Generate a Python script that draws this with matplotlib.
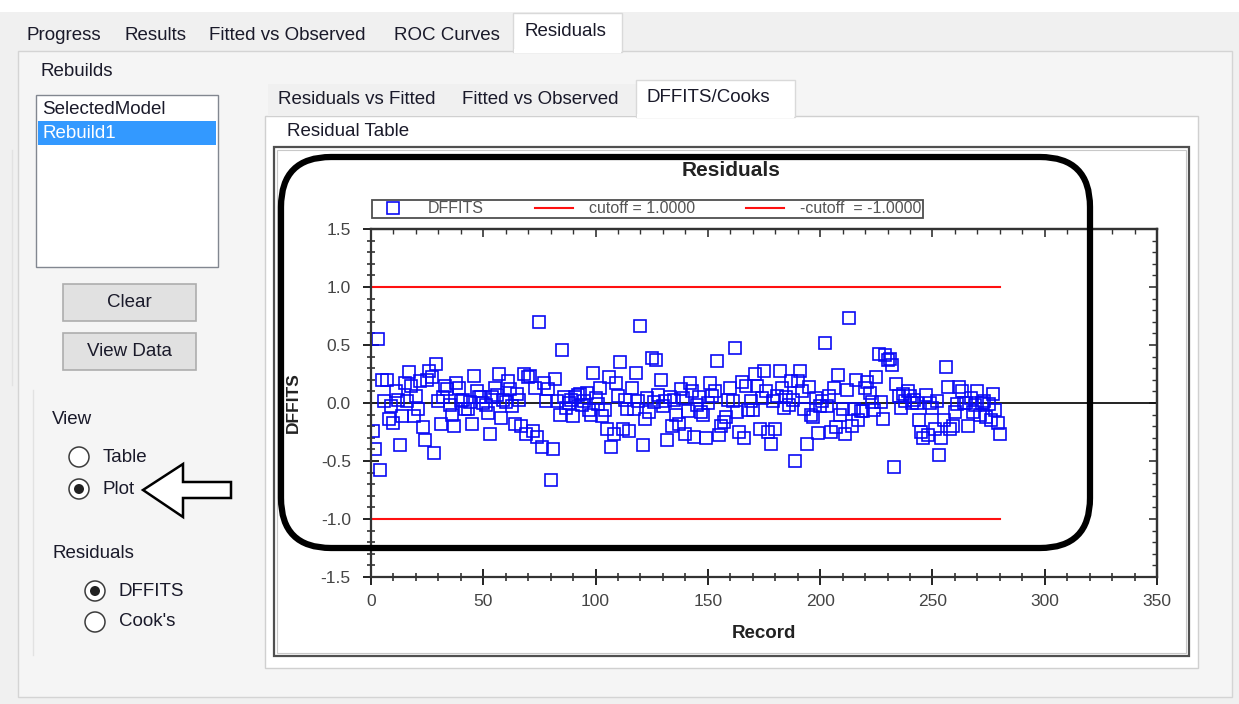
import numpy as np
import matplotlib
matplotlib.use("Agg")
import matplotlib.pyplot as plt
from matplotlib.patches import Rectangle, FancyBboxPatch, Circle, Polygon
from matplotlib.ticker import MultipleLocator, FormatStrFormatter

plt.rcParams['font.family'] = ['Liberation Sans', 'DejaVu Sans']
plt.rcParams['axes.unicode_minus'] = False

# ---------------- data ----------------
records = np.arange(1, 281)
dffits = [
    -0.24, -0.40, 0.55, -0.58, 0.20, 0.02, 0.20, -0.14, -0.03, -0.17,
    0.10, 0.03, -0.36, -0.11, 0.17, 0.02, 0.27, 0.15, -0.11, 0.06,
    -0.05, 0.19, -0.21, -0.32, 0.20, 0.28, 0.22, -0.43, 0.34, 0.02,
    -0.18, 0.05, 0.15, 0.12, -0.02, -0.10, -0.20, 0.17, 0.13, 0.02,
    0.03, -0.05, -0.05, 0.01, -0.18, 0.23, 0.10, 0.05, 0.05, 0.00,
    -0.02, -0.09, -0.27, 0.05, 0.13, 0.07, 0.25, -0.13, 0.03, 0.01,
    0.19, 0.12, -0.03, -0.18, 0.08, 0.03, -0.20, 0.25, -0.27, 0.22,
    0.23, -0.24, 0.13, -0.29, 0.70, -0.38, 0.17, 0.02, 0.12, -0.66,
    -0.40, 0.21, 0.02, -0.10, 0.46, 0.05, -0.04, 0.00, 0.03, -0.11,
    0.05, 0.07, 0.08, -0.02, 0.02, 0.09, -0.06, -0.10, 0.26, 0.04,
    -0.01, 0.13, -0.11, -0.06, -0.22, 0.22, -0.38, -0.27, 0.17, 0.06,
    0.35, -0.22, 0.03, -0.05, -0.24, 0.13, -0.05, 0.26, 0.02, 0.66,
    -0.36, -0.14, 0.04, -0.08, 0.39, 0.01, 0.37, 0.07, 0.20, -0.03,
    0.02, -0.32, 0.05, -0.20, 0.03, -0.10, -0.18, 0.12, 0.04, -0.27,
    -0.07, 0.17, 0.10, -0.29, -0.02, 0.05, -0.08, -0.10, -0.30, 0.00,
    0.17, 0.06, 0.10, 0.36, -0.28, -0.20, -0.16, -0.12, 0.03, 0.13,
    0.02, 0.47, -0.08, -0.25, 0.18, -0.30, 0.15, -0.06, 0.02, -0.06,
    0.25, 0.15, -0.22, 0.04, 0.28, 0.10, -0.25, -0.35, 0.02, -0.22,
    0.06, 0.28, 0.13, -0.04, 0.05, -0.02, 0.19, 0.03, -0.50, 0.19,
    0.28, 0.10, -0.05, -0.35, 0.14, -0.10, -0.12, 0.04, -0.26, -0.03,
    0.02, 0.52, -0.03, 0.06, -0.25, 0.13, -0.21, 0.24, -0.10, -0.05,
    -0.27, 0.11, 0.73, -0.20, -0.05, 0.20, -0.15, -0.07, -0.07, 0.13,
    0.18, 0.09, 0.01, -0.06, 0.22, 0.42, 0.01, -0.14, 0.41, 0.37,
    0.38, 0.33, -0.55, 0.16, 0.06, -0.04, 0.08, 0.02, 0.10, 0.06,
    0.00, 0.03, 0.00, -0.15, -0.25, -0.30, 0.07, -0.28, 0.00, -0.04,
    -0.22, 0.02, -0.45, -0.30, -0.15, 0.31, 0.14, -0.22, -0.20, -0.08,
    -0.01, 0.14, 0.10, 0.00, 0.00, -0.20, 0.04, -0.08, -0.02, 0.10,
    -0.10, 0.00, 0.02, -0.12, -0.01, -0.15, 0.08, -0.06, -0.17, -0.27,
]
cutoff = 1.0
series_labels = ["DFFITS", "cutoff = 1.0000", "-cutoff  = -1.0000"]
chart_title = "Residuals"
x_label = "Record"
y_label = "DFFITS"

main_tabs = ["Progress", "Results", "Fitted vs Observed", "ROC Curves", "Residuals"]
inner_tabs = ["Residuals vs Fitted", "Fitted vs Observed", "DFFITS/Cooks"]
list_items = ["SelectedModel", "Rebuild1"]
buttons = ["Clear", "View Data"]
view_options = ["Table", "Plot"]
resid_options = ["DFFITS", "Cook's"]

# ---------------- layout ----------------
W, H = 1239, 704
GUI_FS = 13.5
TXT = '#1a1a2a'


def frac(x0, y0, x1, y1):
    return [x0 / W, 1 - y1 / H, (x1 - x0) / W, (y1 - y0) / H]


fig = plt.figure(figsize=(W / 100, H / 100), dpi=100, facecolor='#f0f0f0')

bg = fig.add_axes([0, 0, 1, 1])
bg.set_xlim(0, W)
bg.set_ylim(H, 0)
bg.axis('off')

# top white strip and main panel
bg.add_patch(Rectangle((0, 0), W, 12, fc='white', ec='none'))
bg.add_patch(Rectangle((18, 51), 1214, 646, fc='#f5f5f5', ec='#d4d4d4', lw=1))
# main tabs
bg.add_patch(Rectangle((513, 13), 109, 39, fc='white', ec='#d9d9d9', lw=1))
bg.add_patch(Rectangle((514, 49), 107, 4, fc='white', ec='none'))
main_tab_x = [27, 124, 209, 394, 525]
for i, (label, tx) in enumerate(zip(main_tabs, main_tab_x)):
    ty = 32 if i == len(main_tabs) - 1 else 36
    bg.text(tx, ty, label, fontsize=GUI_FS, color=TXT, va='center', ha='left')

# left panel: Rebuilds list
bg.text(40, 72, "Rebuilds", fontsize=GUI_FS, color=TXT, va='center')
bg.add_patch(Rectangle((36, 95), 182, 172, fc='white', ec='#828790', lw=1))
bg.add_patch(Rectangle((38, 121), 178, 24, fc='#3399ff', ec='none'))
bg.text(42, 110, list_items[0], fontsize=GUI_FS, color=TXT, va='center')
bg.text(42, 133, list_items[1], fontsize=GUI_FS, color='white', va='center')

# buttons
for label, y0 in zip(buttons, [284, 333]):
    bg.add_patch(Rectangle((63, y0), 133, 37, fc='#e1e1e1', ec='#adadad', lw=1.2))
    bg.text(129.5, y0 + 18.5, label, fontsize=GUI_FS, color=TXT, va='center', ha='center')

# faint group box lines
bg.plot([12, 12], [150, 385], color='#e2e2e2', lw=1)
bg.plot([33, 33], [390, 655], color='#e2e2e2', lw=1)

# radio groups
def radio(cx, cy, label, checked):
    bg.add_patch(Circle((cx, cy), 10, fc='white', ec='#3c3c3c', lw=1.1))
    if checked:
        bg.add_patch(Circle((cx, cy), 5, fc='#222222', ec='none'))
    bg.text(cx + 24, cy, label, fontsize=GUI_FS, color=TXT, va='center')

bg.text(52, 420, "View", fontsize=GUI_FS, color=TXT, va='center')
radio(79, 457, view_options[0], False)
radio(79, 489, view_options[1], True)
bg.text(52, 553, "Residuals", fontsize=GUI_FS, color=TXT, va='center')
radio(95, 591, resid_options[0], True)
radio(95, 622, resid_options[1], False)

# hollow arrow pointing at "Plot"
arrow_pts = [(143, 490), (183, 464), (183, 482), (231, 482),
             (231, 498), (183, 498), (183, 517)]
bg.add_patch(Polygon(arrow_pts, closed=True, fc='white', ec='black', lw=1.8,
                     joinstyle='miter'))

# inner panel with tabs
bg.add_patch(Rectangle((265, 116), 933, 552, fc='white', ec='#d0d0d0', lw=1))
bg.add_patch(Rectangle((268, 84), 368, 32, fc='#f0f0f0', ec='none'))
bg.add_patch(Rectangle((636, 80), 159, 37, fc='white', ec='#d9d9d9', lw=1))
bg.add_patch(Rectangle((637, 114), 157, 4, fc='white', ec='none'))
inner_tab_x = [278, 462, 647]
for i, (label, tx) in enumerate(zip(inner_tabs, inner_tab_x)):
    ty = 97 if i == len(inner_tabs) - 1 else 100
    bg.text(tx, ty, label, fontsize=GUI_FS, color=TXT, va='center')
bg.text(287, 131, "Residual Table", fontsize=GUI_FS, color=TXT, va='center')

# chart frame
bg.add_patch(Rectangle((274, 147), 915, 509, fc='white', ec='#505050', lw=1.6))
bg.add_patch(Rectangle((277, 150), 909, 503, fc='none', ec='#c8c8c8', lw=0.8))
bg.text(731, 171, chart_title, fontsize=15, fontweight='bold', color='#222222',
        va='center', ha='center')

# ---------------- plot ----------------
ax = fig.add_axes(frac(371, 229, 1157, 577))
ax.set_facecolor('white')
sc, = ax.plot(records, dffits, linestyle='none', marker='s', markersize=8.6,
              markerfacecolor='none', markeredgecolor='#0a0af5',
              markeredgewidth=1.2, label=series_labels[0])
up, = ax.plot([0, records.max()], [cutoff, cutoff], color='#ff1010', lw=1.5,
              label=series_labels[1])
dn, = ax.plot([0, records.max()], [-cutoff, -cutoff], color='#ff1010', lw=1.5,
              label=series_labels[2])
ax.axhline(0, color='#111111', lw=1.3, zorder=1)

ax.set_xlim(0, 350)
ax.set_ylim(-1.5, 1.5)
ax.xaxis.set_major_locator(MultipleLocator(50))
ax.xaxis.set_minor_locator(MultipleLocator(10))
ax.yaxis.set_major_locator(MultipleLocator(0.5))
ax.yaxis.set_minor_locator(MultipleLocator(0.1))
ax.yaxis.set_major_formatter(FormatStrFormatter('%.1f'))
ax.tick_params(which='major', direction='inout', length=11, width=1.4,
               color='#222222', labelsize=12.5, labelcolor='#444444', pad=7)
ax.tick_params(which='minor', direction='inout', length=6, width=1.1,
               color='#222222')
ax.tick_params(axis='y', pad=9)
for s in ax.spines.values():
    s.set_color('#333333')
    s.set_linewidth(1.6)

secx = ax.secondary_xaxis('top')
secx.xaxis.set_major_locator(MultipleLocator(50))
secx.xaxis.set_minor_locator(MultipleLocator(10))
secx.tick_params(which='major', direction='in', length=6, width=1.2, labeltop=False,
                 color='#333333')
secx.tick_params(which='minor', direction='in', length=3.5, width=1, color='#333333')
secx.spines['top'].set_linewidth(1.6)
secx.spines['top'].set_color('#333333')

secy = ax.secondary_yaxis('right')
secy.yaxis.set_major_locator(MultipleLocator(0.5))
secy.yaxis.set_minor_locator(MultipleLocator(0.1))
secy.tick_params(which='major', direction='in', length=6, width=1.2, labelright=False,
                 color='#333333')
secy.tick_params(which='minor', direction='in', length=3.5, width=1, color='#333333')
secy.spines['right'].set_linewidth(1.6)
secy.spines['right'].set_color('#333333')

ax.set_xlabel(x_label, fontsize=13.5, fontweight='bold', color='#222222', labelpad=11)
ax.set_ylabel(y_label, fontsize=12.5, fontweight='bold', color='#222222', labelpad=14)

leg = ax.legend(handles=[sc, up, dn], loc='lower left', ncol=3, mode='expand',
                bbox_to_anchor=(372 / W, 1 - 218 / H, (923 - 372) / W, 19 / H),
                bbox_transform=fig.transFigure, fontsize=11.5, frameon=True,
                fancybox=False, edgecolor='#222222', borderpad=0.1,
                handlelength=2.4, handletextpad=1.0, borderaxespad=0,
                labelcolor='#555555')
leg.get_frame().set_linewidth(1.3)

# ---------------- annotation overlay ----------------
ov = fig.add_axes([0, 0, 1, 1])
ov.set_xlim(0, W)
ov.set_ylim(H, 0)
ov.axis('off')
ov.add_patch(FancyBboxPatch((281, 157), 809, 391,
                            boxstyle='round,pad=0,rounding_size=50',
                            fill=False, ec='black', lw=4.5))

fig.savefig('out.png', dpi=100, facecolor=fig.get_facecolor())
